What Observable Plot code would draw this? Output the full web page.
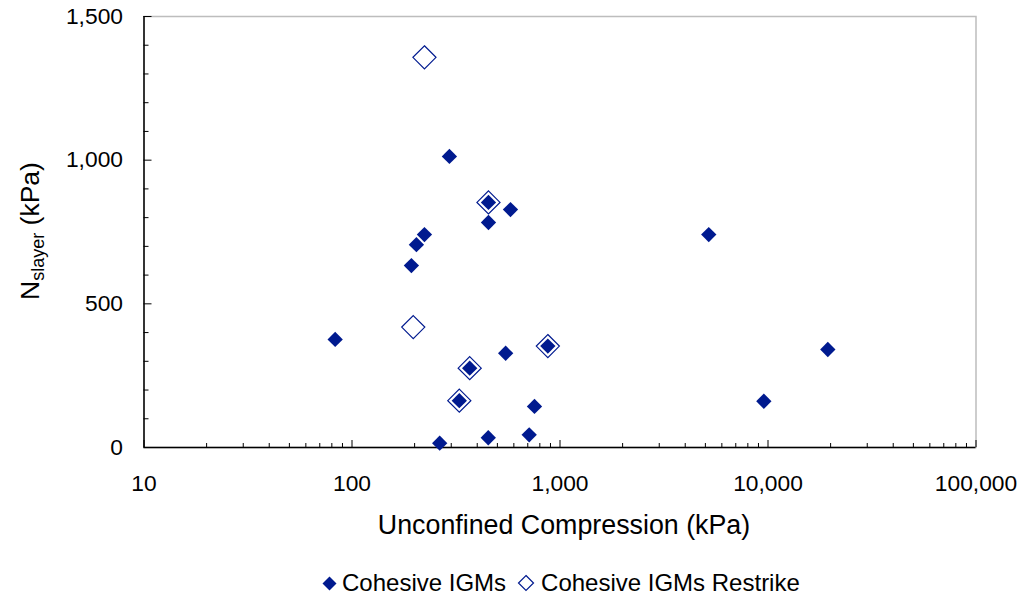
<!DOCTYPE html>
<html>
<head>
<meta charset="utf-8">
<script src="https://cdn.jsdelivr.net/npm/d3@7"></script>
<script src="https://cdn.jsdelivr.net/npm/@observablehq/plot@0.6"></script>
<style>
  body { margin: 0; background: #fff; font-family: "Liberation Sans", Arial, sans-serif; }
  #wrap { position: relative; width: 1024px; height: 596px; }
  #legend { position: absolute; left: 322px; top: 569px; display: flex; align-items: center;
            font-size: 24px; line-height: 28px; color: #000; white-space: nowrap; }
  #legend svg { display: block; }
</style>
</head>
<body>
<div id="wrap"><div id="chart"></div><div id="legend"></div></div>
<script>
// Cohesive IGMs (filled diamonds)
const igmX = [83, 193, 204, 223, 294, 453, 453, 578, 5190, 19390, 9550, 548, 874, 368, 328, 754, 264, 452, 711];
const igmY = [376, 633, 706, 741, 1013, 853, 783, 828, 741, 341, 161, 328, 353, 276, 163, 143, 15, 34, 44];
// Cohesive IGMs Restrike (hollow diamonds)
const restrikeX = [223, 197, 453, 368, 328, 874];
const restrikeY = [1358, 419, 853, 276, 163, 353];

const seriesNames = ["Cohesive IGMs", "Cohesive IGMs Restrike"];
const xTicks = [10, 100, 1000, 10000, 100000];
const yTicks = [0, 500, 1000, 1500];
const xMinor = [];
for (const d of [10, 100, 1000, 10000]) for (let k = 2; k <= 9; k++) xMinor.push(d * k);
const yMinor = d3.range(0, 1501, 100).filter(v => v % 500 !== 0);

const navy = "#001a8f";
const igm = igmX.map((x, i) => ({x, y: igmY[i]}));
const restrike = restrikeX.map((x, i) => ({x, y: restrikeY[i]}));

const plot = Plot.plot({
  width: 1024,
  height: 545,
  marginLeft: 143.5,
  marginRight: 48.5,
  marginTop: 16,
  marginBottom: 98,
  style: { fontFamily: "'Liberation Sans', Arial, sans-serif", background: "white", color: "black" },
  x: { type: "log", domain: [10, 100000], label: null },
  y: { domain: [0, 1500], label: null },
  marks: [
    Plot.frame({ stroke: "#bdbdbd", strokeWidth: 1.5 }),
    Plot.axisX(xMinor, { tickSize: -4, tickFormat: () => "", label: null, strokeWidth: 1 }),
    Plot.axisX(xTicks, { tickSize: -7, tickFormat: () => "", label: null, strokeWidth: 1 }),
    Plot.axisX(xTicks, { tickSize: 0, tickPadding: 27, tickFormat: d3.format(","), fontSize: 22.8, label: null }),
    Plot.axisY(yMinor, { tickSize: -5, tickFormat: () => "", label: null }),
    Plot.axisY(yTicks, { tickSize: -8, tickFormat: () => "", label: null }),
    Plot.axisY(yTicks, { tickSize: 0, tickPadding: 21, tickFormat: d3.format(","), fontSize: 22.8, label: null }),
    Plot.ruleX([10], { stroke: "black", strokeWidth: 1.5 }),
    Plot.ruleY([0], { stroke: "black", strokeWidth: 1.5 }),
    Plot.dot(restrike, { x: "x", y: "y", symbol: "diamond2", r: 10.4, fill: "none", stroke: navy, strokeWidth: 1.2 }),
    Plot.dot(igm, { x: "x", y: "y", symbol: "diamond2", r: 6.9, fill: navy, stroke: "none" }),
    Plot.text(["Unconfined Compression (kPa)"], { frameAnchor: "bottom", dx: 4, dy: 86, fontSize: 26.8, text: d => d, lineAnchor: "bottom" })
  ]
});
document.getElementById("chart").appendChild(plot);

// Y-axis title with subscript
const svg = d3.select(plot);
const yt = svg.append("text")
  .attr("transform", "translate(39,231) rotate(-90)")
  .attr("text-anchor", "middle")
  .attr("font-family", "'Liberation Sans', Arial, sans-serif")
  .attr("font-size", 26.5)
  .attr("fill", "black");
yt.append("tspan").text("N");
yt.append("tspan").attr("font-size", 18).attr("dy", 5).text("slayer");
yt.append("tspan").attr("dy", -5).text(" (kPa)");

// Legend
const legend = d3.select("#legend");
function sw(filled, size, ml, mr) {
  const s = legend.append("svg").attr("width", size).attr("height", size)
    .style("margin-left", ml + "px").style("margin-right", mr + "px");
  const h = size / 2, r = filled ? h - 0.5 : h - 1.5;
  s.append("path").attr("d", `M${h},${h - r}L${h + r},${h}L${h},${h + r}L${h - r},${h}Z`)
    .attr("fill", filled ? navy : "none").attr("stroke", navy).attr("stroke-width", filled ? 0 : 1.2);
}
sw(true, 15, 0, 5);
legend.append("span").text(seriesNames[0]);
sw(false, 18, 11, 6);
legend.append("span").text(seriesNames[1]);
</script>
</body>
</html>
